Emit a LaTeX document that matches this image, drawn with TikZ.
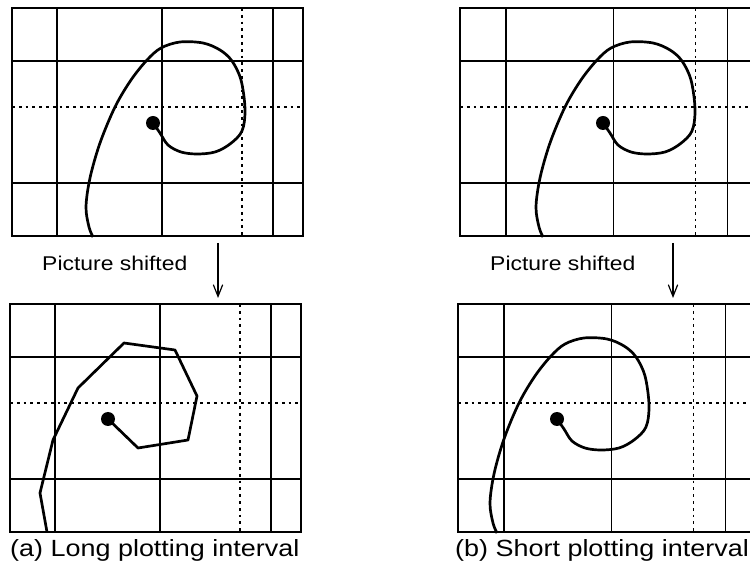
\documentclass[tikz,border=0pt]{standalone}
\usepackage{fontspec}
\setmainfont{Liberation Sans}[FakeStretch=1.15]
\usetikzlibrary{arrows.meta}

% frame with its grid, in local pixel units (291 x 228)
\newcommand\plotgrid{%
  \draw[gridline] (45,0) -- (45,228) (150,0) -- (150,228) (261,0) -- (261,228)
    (0,53) -- (291,53) (0,175) -- (291,175);
  \draw[dotline] (230,0) -- (230,228) (0,99) -- (291,99);
  \draw[frame] (0,0) rectangle (291,228);
}

% smoothly plotted trajectory, starting at the dot
\newcommand\drawspiral[1]{%
  \fill #1 circle[radius=7];
  \draw[curve, shift={#1}] plot[smooth, tension=0.55] coordinates {
    (0,0) (7,10) (15,22) (28,29) (44,31) (62,29) (77,21) (89,8) (92,-14)
    (88,-43) (79,-62) (67,-73) (50,-80) (27,-81) (8,-75) (-6,-63) (-22,-43)
    (-38,-16) (-53,20) (-63,55) (-67,84) (-64,104) (-60,114)};
}

\begin{document}
\begin{tikzpicture}[
    x=0.03cm, y=-0.03cm,
    frame/.style={line width=2.1pt},
    gridline/.style={line width=1.1pt},
    dotline/.style={line width=1.1pt, dash pattern=on 2.4pt off 3.4pt},
    curve/.style={line width=2.3pt, line join=round},
    arrow/.style={-{Straight Barb[length=10pt, width=8pt]}, line width=1pt},
    shiftlabel/.style={font=\fontsize{17}{20}\selectfont, anchor=base west, inner sep=0pt},
    caption/.style={font=\fontsize{20}{24}\selectfont, anchor=base west, inner sep=0pt},
]
\clip (0,0) rectangle (750,571);

% (a) long plotting interval
\begin{scope}[shift={(12,8)}]
  \plotgrid
\end{scope}
\drawspiral{(153,123)}

\node[shiftlabel] (shiftA) at (42,271) {Picture shifted};
\coordinate (arrA-from) at (218,243);
\coordinate (arrA-to) at (218,298);
\draw[arrow] (arrA-from) -- (arrA-to);

\begin{scope}[shift={(10,304)}]
  \plotgrid
\end{scope}
\fill (108,419) circle[radius=7];
\draw[curve, shift={(108,419)}] (0,0) -- (30,29) -- (80,21) -- (89,-23) -- (67,-69)
  -- (16,-76) -- (-30,-31) -- (-55,21) -- (-68,74) -- (-61,113);

\node[caption] (capA) at (10,556) {(a) Long plotting interval};

% (b) short plotting interval
\begin{scope}[shift={(460,8)}, xscale=1.024]
  \plotgrid
\end{scope}
\drawspiral{(603,123)}

\node[shiftlabel] (shiftB) at (490,271) {Picture shifted};
\coordinate (arrB-from) at (673,243);
\coordinate (arrB-to) at (673,298);
\draw[arrow] (arrB-from) -- (arrB-to);

\begin{scope}[shift={(458,304)}, xscale=1.024]
  \plotgrid
\end{scope}
\drawspiral{(557,419)}

\node[caption] (capB) at (455,556) {(b) Short plotting interval};

\end{tikzpicture}
\end{document}
